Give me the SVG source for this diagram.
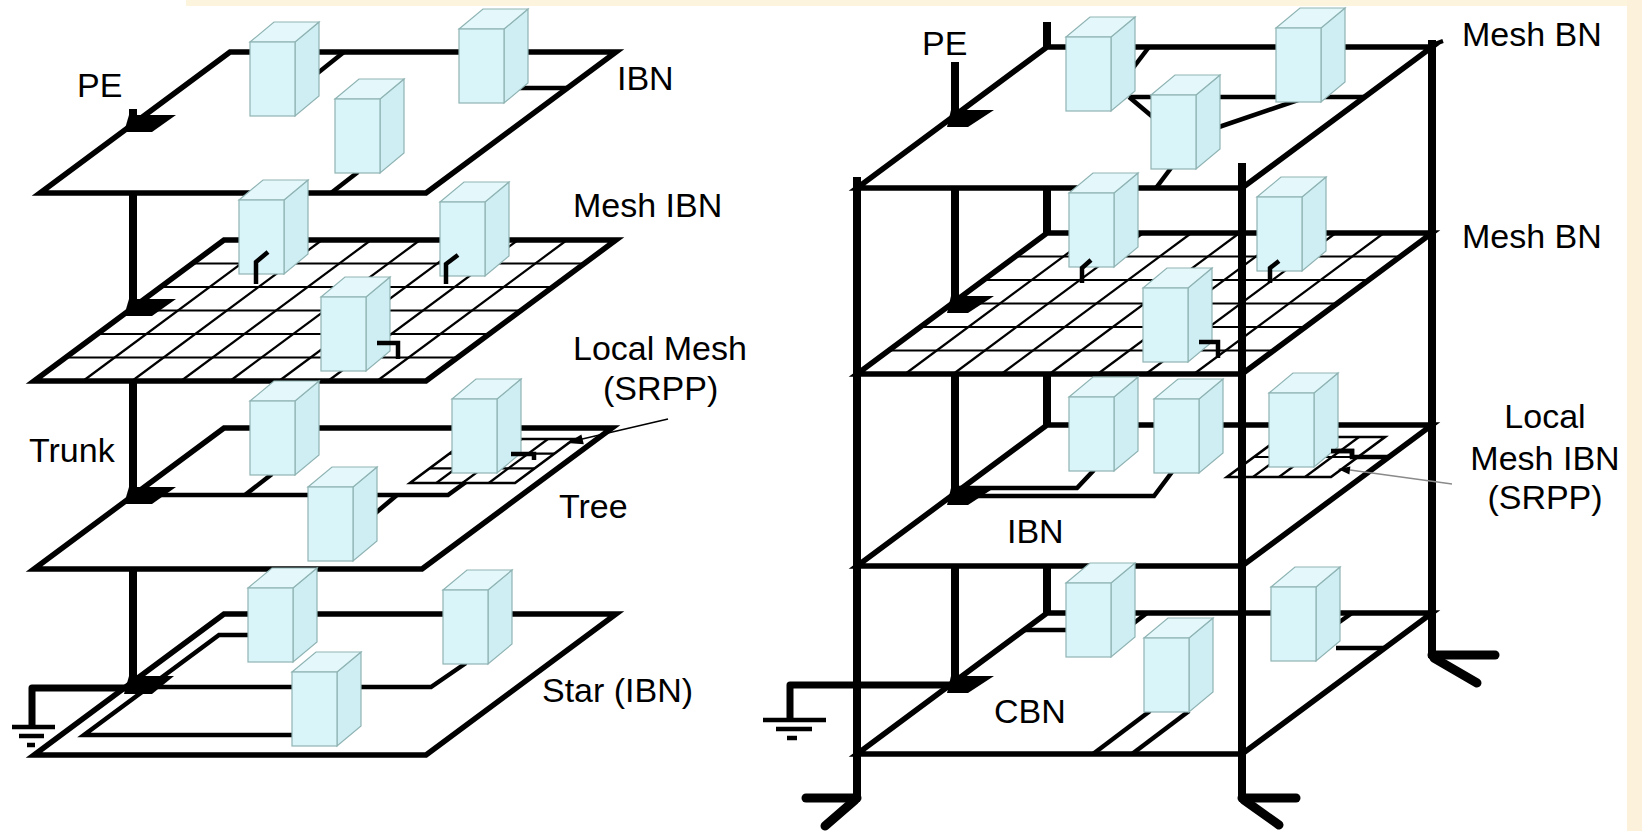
<svg xmlns="http://www.w3.org/2000/svg" width="1642" height="831" viewBox="0 0 1642 831">
<style>
.plate{fill:#fff;stroke:#000;stroke-width:5.5;stroke-linejoin:miter}
.grid{stroke:#000;stroke-width:2.2;fill:none}
.wire{stroke:#000;stroke-width:4.5;fill:none;stroke-linejoin:miter}
.trunk{stroke:#000;stroke-width:8;fill:none}
.gnd{stroke:#000;stroke-width:7;fill:none;stroke-linejoin:round}
.bar{stroke:#000;stroke-width:4.5;fill:none}
.foot{stroke:#000;stroke-width:9;fill:none;stroke-linecap:round}
.lbl{font-family:"Liberation Sans",Arial,sans-serif;font-size:34px;fill:#000}
.bf{fill:#d9f5f9;stroke:#8fb3b3;stroke-width:1.2}
.bs{fill:#cfeef3;stroke:#8fb3b3;stroke-width:1.2}
.bt{fill:#e4f8fb;stroke:#8fb3b3;stroke-width:1.2}
</style>
<defs>
<g id="box">
<path class="bs" d="M45,0 L69,-20 L69,54 L45,74 Z"/>
<path class="bt" d="M0,0 L24,-20 L69,-20 L45,0 Z"/>
<rect class="bf" x="0" y="0" width="45" height="74"/>
</g>
</defs>
<rect x="0" y="0" width="1642" height="831" fill="#fff"/>
<rect x="186" y="0" width="1456" height="6" fill="#fcf4dc"/>
<rect x="1627" y="0" width="15" height="831" fill="#fcf2dc"/>

<!-- trunks and back posts (behind plates) -->
<g id="trunks-back">
<line class="trunk" x1="133" y1="109" x2="133" y2="688"/>
<line class="trunk" x1="955" y1="62" x2="955" y2="685"/>
<line class="trunk" x1="1047" y1="22" x2="1047" y2="613"/>
<line class="trunk" x1="1432" y1="40" x2="1432" y2="658"/>
<line x1="1432" y1="45" x2="1443" y2="41" stroke="#000" stroke-width="4"/>
</g>

<!-- plates -->
<g id="plate-ibn-top">
<polygon class="plate" points="230,52 616,52 426,193 40,193"/>
</g>
<g id="plate-mesh-ibn">
<polygon class="plate" points="224,240 616,240 426,381 34,381"/>
<g class="grid">
<line x1="192.3" y1="263.5" x2="584.3" y2="263.5"/>
<line x1="160.7" y1="287" x2="552.7" y2="287"/>
<line x1="129" y1="310.5" x2="521" y2="310.5"/>
<line x1="97.3" y1="334" x2="489.3" y2="334"/>
<line x1="65.6" y1="357.5" x2="457.6" y2="357.5"/>
<line x1="273" y1="240" x2="83" y2="381"/>
<line x1="322" y1="240" x2="132" y2="381"/>
<line x1="371" y1="240" x2="181" y2="381"/>
<line x1="420" y1="240" x2="230" y2="381"/>
<line x1="469" y1="240" x2="279" y2="381"/>
<line x1="518" y1="240" x2="328" y2="381"/>
<line x1="567" y1="240" x2="377" y2="381"/>
</g>
</g>
<g id="plate-tree">
<polygon class="plate" points="224,428 612,428 422,569 34,569"/>
<g id="local-mesh-left" class="grid">
<polygon points="469,439 574,439 515,483 410,483" stroke-width="2.6"/>
<line x1="449.5" y1="453.7" x2="554.5" y2="453.7"/>
<line x1="429.8" y1="468.3" x2="534.8" y2="468.3"/>
<line x1="495.5" y1="439" x2="436.3" y2="483"/>
<line x1="521.8" y1="439" x2="462.5" y2="483"/>
<line x1="548" y1="439" x2="488.8" y2="483"/>
</g>
</g>
<g id="plate-star">
<polygon class="plate" points="224,614 616,614 426,755 34,755"/>
</g>

<g id="plate-r1">
<polygon class="plate" points="1047,47 1432,47 1242,188 857,188"/>
</g>
<g id="plate-r2-mesh">
<polygon class="plate" points="1047,233 1432,233 1242,374 857,374"/>
<g class="grid">
<line x1="1015.3" y1="256.5" x2="1400.3" y2="256.5"/>
<line x1="983.7" y1="280" x2="1368.7" y2="280"/>
<line x1="952" y1="303.5" x2="1337" y2="303.5"/>
<line x1="920.3" y1="327" x2="1305.3" y2="327"/>
<line x1="888.6" y1="350.5" x2="1273.6" y2="350.5"/>
<line x1="1095.1" y1="233" x2="905.1" y2="374"/>
<line x1="1143.3" y1="233" x2="953.3" y2="374"/>
<line x1="1191.4" y1="233" x2="1001.4" y2="374"/>
<line x1="1239.5" y1="233" x2="1049.5" y2="374"/>
<line x1="1287.6" y1="233" x2="1097.6" y2="374"/>
<line x1="1335.8" y1="233" x2="1145.8" y2="374"/>
<line x1="1383.9" y1="233" x2="1193.9" y2="374"/>
</g>
</g>
<g id="plate-r3">
<polygon class="plate" points="1047,425 1432,425 1242,566 857,566"/>
<g id="local-mesh-right" class="grid">
<polygon points="1281,437 1385,437 1331,477 1227,477" stroke-width="2.6"/>
<line x1="1254" y1="457" x2="1358" y2="457"/>
<line x1="1307" y1="437" x2="1253" y2="477"/>
<line x1="1333" y1="437" x2="1279" y2="477"/>
<line x1="1359" y1="437" x2="1305" y2="477"/>
</g>
</g>
<g id="plate-r4">
<polygon class="plate" points="1047,613 1432,613 1242,754 857,754"/>
</g>

<!-- connectors -->
<g id="connectors">
<line class="wire" x1="314" y1="76" x2="344" y2="52"/>
<line class="wire" x1="504" y1="88" x2="567" y2="88"/>
<line class="wire" x1="358" y1="172" x2="331" y2="193"/>
<path class="wire" d="M133,495 H448 L466,482"/>
<line class="wire" x1="272" y1="474" x2="245" y2="495"/>
<line class="wire" x1="372" y1="516" x2="397" y2="495"/>
<path class="wire" d="M248,635 H219 L84,735 H292"/>
<path class="wire" d="M140,687 H431 L466,663"/>
<path class="gnd" d="M133,688 H32 V727"/>
<line class="bar" x1="12" y1="727" x2="55" y2="727"/>
<line class="bar" x1="19" y1="736" x2="44" y2="736"/>
<line class="bar" x1="27" y1="745" x2="35" y2="745"/>
<polygon points="129,115 176,115 152,132 124,132"/>
<polygon points="129,299 176,299 152,316 124,316"/>
<polygon points="129,487 176,487 152,504 124,504"/>
<polygon points="129,676 174,676 152,694 124,694"/>
<line x1="668" y1="419" x2="578" y2="440" stroke="#000" stroke-width="1.6"/>
<polygon points="567,443 583.8,444.2 581.4,434.4"/>

<line class="wire" x1="1133" y1="68" x2="1149" y2="47"/>
<line class="wire" x1="1129" y1="97" x2="1365" y2="97"/>
<line class="wire" x1="1129" y1="97" x2="1154" y2="118"/>
<line class="wire" x1="1216" y1="128" x2="1298" y2="100"/>
<line class="wire" x1="1171" y1="168" x2="1156" y2="188"/>
<path class="wire" d="M958,488 H1077 L1094,470"/>
<path class="wire" d="M958,496 H1154 L1172,472"/>
<path class="wire" d="M1331,451 H1352 V457 H1389"/>
<line class="wire" x1="1024" y1="630" x2="1068" y2="630"/>
<line class="wire" x1="1130" y1="626" x2="1147" y2="613"/>
<line class="wire" x1="1150" y1="711" x2="1093" y2="754"/>
<line class="wire" x1="1189" y1="711" x2="1132" y2="754"/>
<line class="wire" x1="1336" y1="648" x2="1385" y2="648"/>
<line class="wire" x1="1338" y1="623" x2="1352" y2="613"/>
<path class="gnd" d="M955,685 H790 V719"/>
<line class="bar" x1="763" y1="720" x2="826" y2="720"/>
<line class="bar" x1="776" y1="729" x2="812" y2="729"/>
<line class="bar" x1="787" y1="738" x2="797" y2="738"/>
<polygon points="951,110 994,110 968,127 947,127"/>
<polygon points="951,296 994,296 968,313 947,313"/>
<polygon points="951,488 994,488 968,505 947,505"/>
<polygon points="951,676 994,676 968,693 947,693"/>
<line x1="1452" y1="484" x2="1350" y2="470" stroke="#8a8a8a" stroke-width="1.3"/>
<polygon points="1338,469 1350.4,466.6 1349.4,474.6"/>
</g>

<!-- nodes: boxes -->
<g id="node-l1a"><use href="#box" x="250" y="42"/></g>
<g id="node-l1b"><use href="#box" x="459" y="29"/></g>
<g id="node-l1c"><use href="#box" x="335" y="99"/></g>
<g id="node-l2a"><use href="#box" x="239" y="200"/><path class="wire" d="M256,284 V262 L268,252"/></g>
<g id="node-l2b"><use href="#box" x="440" y="202"/><path class="wire" d="M446,284 V264 L458,255"/></g>
<g id="node-l2c"><use href="#box" x="321" y="297"/><path class="wire" d="M377,343 H398 V359"/></g>
<g id="node-l3a"><use href="#box" x="250" y="401"/></g>
<g id="node-l3b"><use href="#box" x="452" y="399"/><path class="wire" d="M511,454 H534 V460"/></g>
<g id="node-l3c"><use href="#box" x="308" y="487"/></g>
<g id="node-l4a"><use href="#box" x="248" y="588"/></g>
<g id="node-l4b"><use href="#box" x="443" y="590"/></g>
<g id="node-l4c"><use href="#box" x="292" y="672"/></g>

<g id="node-r1a"><use href="#box" x="1066" y="37"/></g>
<g id="node-r1b"><use href="#box" x="1276" y="28"/></g>
<g id="node-r1c"><use href="#box" x="1151" y="95"/></g>
<g id="node-r2a"><use href="#box" x="1069" y="193"/><path class="wire" d="M1082,283 V268 L1091,260"/></g>
<g id="node-r2b"><use href="#box" x="1257" y="197"/><path class="wire" d="M1270,283 V268 L1279,261"/></g>
<g id="node-r2c"><use href="#box" x="1143" y="288"/><path class="wire" d="M1199,342 H1218 V358"/></g>
<g id="node-r3a"><use href="#box" x="1069" y="397"/></g>
<g id="node-r3b"><use href="#box" x="1154" y="399"/></g>
<g id="node-r3c"><use href="#box" x="1269" y="393"/><path class="wire" d="M1331,451 H1352 V457"/></g>
<g id="node-r4a"><use href="#box" x="1066" y="583"/></g>
<g id="node-r4b"><use href="#box" x="1144" y="638"/></g>
<g id="node-r4c"><use href="#box" x="1271" y="587"/></g>

<!-- front posts and feet -->
<g id="front-posts">
<line class="trunk" x1="857" y1="177" x2="857" y2="800"/>
<line class="trunk" x1="1242" y1="163" x2="1242" y2="800"/>
<line class="foot" x1="806" y1="798" x2="857" y2="798"/>
<line class="foot" x1="855" y1="800" x2="825" y2="826"/>
<line class="foot" x1="1242" y1="798" x2="1296" y2="798"/>
<line class="foot" x1="1244" y1="800" x2="1279" y2="825"/>
<line class="foot" x1="1432" y1="655" x2="1495" y2="655"/>
<line class="foot" x1="1434" y1="658" x2="1477" y2="683"/>
</g>

<!-- labels -->
<g id="labels" class="lbl">
<text x="77" y="97">PE</text>
<text x="617" y="90">IBN</text>
<text x="573" y="217">Mesh IBN</text>
<text x="573" y="360">Local Mesh</text>
<text x="603" y="400">(SRPP)</text>
<text x="29" y="462">Trunk</text>
<text x="559" y="518">Tree</text>
<text x="542" y="702">Star (IBN)</text>
<text x="922" y="55">PE</text>
<text x="1462" y="46">Mesh BN</text>
<text x="1462" y="248">Mesh BN</text>
<text x="1545" y="428" text-anchor="middle">Local</text>
<text x="1545" y="470" text-anchor="middle">Mesh IBN</text>
<text x="1545" y="509" text-anchor="middle">(SRPP)</text>
<text x="1007" y="543">IBN</text>
<text x="994" y="723">CBN</text>
</g>
</svg>
